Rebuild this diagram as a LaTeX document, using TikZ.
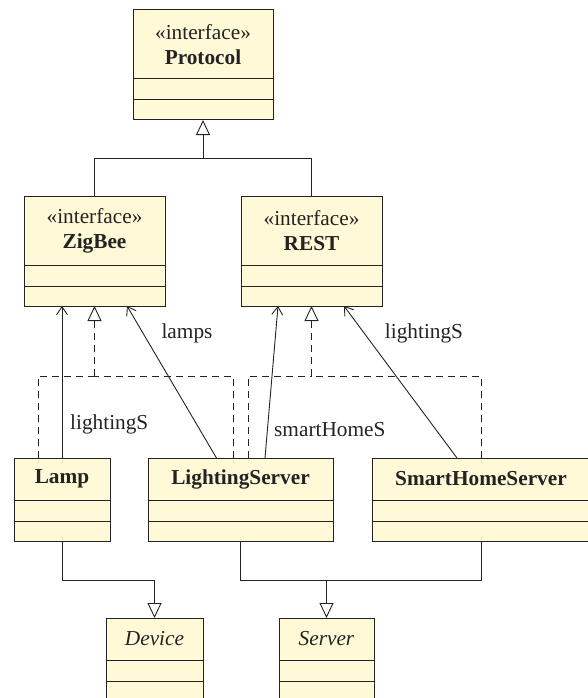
\documentclass[tikz,border=0pt]{standalone}
\usepackage{fontspec}
\setmainfont{Liberation Serif}
\usetikzlibrary{arrows.meta}

\definecolor{classfill}{RGB}{255,249,215}
\definecolor{ink}{RGB}{35,35,35}

\newcommand\umlfont{\fontsize{21.3}{25}\selectfont}

\tikzset{
  classbox/.style={draw=ink, fill=classfill, line width=1pt, inner sep=0pt,
                   outer sep=0pt, anchor=north west},
  compsep/.style={draw=ink, line width=1pt},
  classtitle/.style={align=center, inner sep=0pt, text=ink, font=\umlfont},
  connector/.style={draw=ink, line width=0.9pt},
  gen/.style={connector, -{Triangle[open, length=15pt, width=14pt, line width=0.9pt]}},
  realline/.style={connector, dash pattern=on 7pt off 5pt},
  real/.style={realline, -{Triangle[open, length=15pt, width=14pt, line width=0.9pt]}},
  assoc/.style={connector, -{Straight Barb[length=8pt, width=11pt, line width=0.9pt]}},
  rolelabel/.style={inner sep=0pt, text=ink, font=\umlfont},
}

% #1 name, #2 x, #3 y (top), #4 width, #5 title height, #6 total height, #7 title text
\newcommand\umlclass[7]{%
  \node[classbox, minimum width=#4pt, minimum height=#6pt] (#1) at (#2,#3) {};
  \draw[compsep] ([yshift=-#5pt]#1.north west) -- ([yshift=-#5pt]#1.north east);
  \draw[compsep] ([yshift=-#5pt-21pt]#1.north west) -- ([yshift=-#5pt-21pt]#1.north east);
  \node[classtitle] (#1-title) at ([yshift=-#5pt/2]#1.north) {#7};
}

\begin{document}
\begin{tikzpicture}[x=1pt, y=-1pt]
  \useasboundingbox (0,0) rectangle (587,698);

  % interfaces
  \umlclass{protocol}{133}{10}{140}{69}{110}{«interface»\\\textbf{Protocol}}
  \umlclass{zigbee}{24}{196}{141}{69}{110}{«interface»\\\textbf{ZigBee}}
  \umlclass{rest}{241}{196}{141}{69}{110}{«interface»\\\textbf{REST}}

  % concrete classes
  \umlclass{lamp}{14}{458}{96}{42}{83}{\textbf{Lamp}}
  \umlclass{ls}{148}{458}{185}{42}{83}{\textbf{LightingServer}}
  \umlclass{shs}{372}{458}{218}{42}{83}{\textbf{SmartHomeServer}}

  % abstract base classes
  \umlclass{device}{106}{618}{97}{42}{84}{\textit{Device}}
  \umlclass{server}{279}{618}{95}{42}{84}{\textit{Server}}

  % junction points of the tree-style connectors
  \coordinate (protoJ) at (203,158);
  \coordinate (zbJ) at (94.5,376);
  \coordinate (restJ) at (311.5,376);
  \coordinate (devJ) at (154.5,580);
  \coordinate (srvJ) at (326.5,580);

  % interface inheritance
  \draw[connector] (zigbee.north) |- (protoJ);
  \draw[connector] (rest.north) |- (protoJ);
  \draw[gen] (protoJ) -- (protocol.south);

  % interface realization
  \draw[realline] ([xshift=24pt]lamp.north west) |- (zbJ);
  \draw[realline] ([xshift=-7.5pt]ls.north) |- (zbJ);
  \draw[real] (zbJ) -- (zigbee.south);
  \draw[realline] ([xshift=7.5pt]ls.north) |- (restJ);
  \draw[realline] (shs.north) |- (restJ);
  \draw[real] (restJ) -- (rest.south);

  % navigable associations
  \draw[assoc] (lamp.north) -- (lamp.north |- zigbee.south);
  \draw[assoc] ([xshift=-24pt]ls.north) -- ([xshift=32.5pt]zigbee.south);
  \draw[assoc] ([xshift=24.5pt]ls.north) -- ([xshift=-33.5pt]rest.south);
  \draw[assoc] ([xshift=-24pt]shs.north) -- ([xshift=32.5pt]rest.south);

  \node[rolelabel, anchor=west] (lblLampS) at (70,424) {lightingS};
  \node[rolelabel] (lblLamps) at (187,333) {lamps};
  \node[rolelabel, anchor=west] (lblSmart) at (274,430) {smartHomeS};
  \node[rolelabel] (lblShsS) at (424,333) {lightingS};

  % class inheritance
  \draw[connector] (lamp.south) |- (devJ);
  \draw[gen] (devJ) -- (device.north);
  \draw[connector] (ls.south) |- (srvJ);
  \draw[connector] (shs.south) |- (srvJ);
  \draw[gen] (srvJ) -- (server.north);
\end{tikzpicture}
\end{document}
